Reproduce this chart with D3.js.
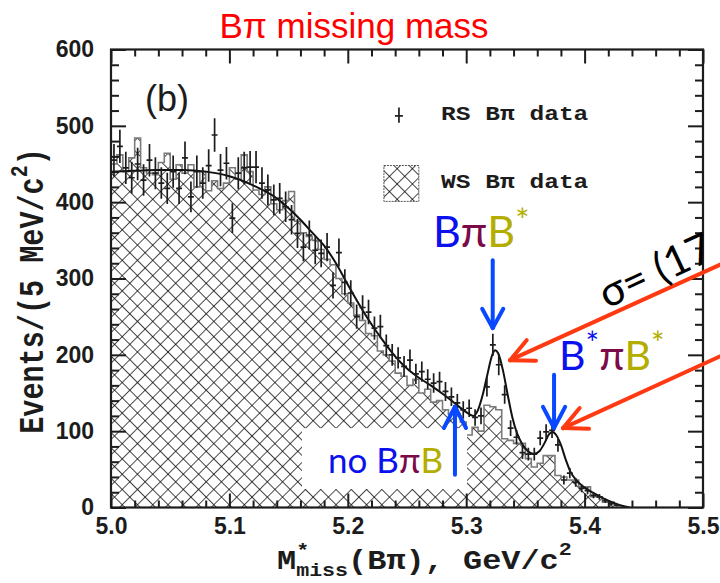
<!DOCTYPE html>
<html><head><meta charset="utf-8">
<script src="https://cdn.jsdelivr.net/npm/d3@7"></script>
<style>body{margin:0;background:#fff} svg{display:block}</style>
</head><body><svg id="c" width="720" height="583"></svg>
<script>
// ---------------- data ----------------
const binStart = 5.0, binWidth = 0.005;
const rsCounts = [455,473,445,432,450,429,455,438,425,418,
                  440,418,458,407,440,425,448,488,442,451,
                  379,438,445,446,446,425,416,403,405,394,
                  377,359,341,357,337,333,341,291,334,295,
                  281,250,262,256,235,237,212,200,196,185,
                  193,175,178,168,163,165,152,145,137,128,
                  130,118,120,158,213,187,148,104,92,72,
                  70,70,91,99,101,82,36,45,33,25,
                  22,16,14,9,5,3];
const wsCounts = [450,462,440,458,484,445,438,436,452,464,
                  430,449,438,449,420,440,415,428,418,425,
                  445,430,462,440,416,410,420,398,390,402,
                  414,375,360,355,350,338,325,318,300,280,
                  268,252,245,228,225,205,200,192,176,172,
                  160,168,150,155,138,140,128,122,120,112,
                  95,105,100,134,132,128,90,88,84,84,
                  64,53,58,68,68,42,40,36,36,27,
                  27,14,14,7,7,3];
const fitMass   = [5.00,5.02,5.04,5.06,5.08,5.10,5.12,5.14,5.15,5.16,5.17,5.18,5.19,5.20,5.21,5.22,5.23,5.24,5.25,5.26,5.27,5.28,5.29,5.30,5.306,5.310,5.314,5.318,5.322,5.3245,5.327,5.331,5.335,5.339,5.343,5.347,5.352,5.357,5.362,5.366,5.370,5.373,5.376,5.380,5.384,5.388,5.393,5.400,5.410,5.420,5.430,5.438];
const fitValues = [440,441,442,442,440,434,422,405,392,377,360,343,320,292,265,240,218,198,182,170,160,149,137,125,120,128,148,175,200,206,202,180,148,118,97,84,74,70,74,84,96,99,95,82,63,47,36,26,17,9,3,0];
const xTickValues = [5.0,5.1,5.2,5.3,5.4,5.5];
const xTickLabels = ["5.0","5.1","5.2","5.3","5.4","5.5"];
const yTickValues = [0,100,200,300,400,500,600];
const yTickLabels = ["0","100","200","300","400","500","600"];
const legendLabels = ["RS B\u03c0 data","WS B\u03c0 data"];

// ---------------- layout ----------------
const svg = d3.select("#c");
const x = d3.scaleLinear().domain([5.0,5.5]).range([111,703]);
const y = d3.scaleLinear().domain([0,600]).range([507.5,49.5]);
const ink = "#1c1c1c";

const defs = svg.append("defs");
const pat = defs.append("pattern").attr("id","hatch").attr("patternUnits","userSpaceOnUse")
  .attr("width",10.8).attr("height",10.8).attr("patternTransform","rotate(45)");
pat.append("path").attr("d","M0,0 H10.8 M0,0 V10.8").attr("stroke","#000").attr("stroke-width",1.4);
defs.append("clipPath").attr("id","plotclip").append("rect")
  .attr("x",x(5.0)).attr("y",y(600)).attr("width",x(5.5)-x(5.0)).attr("height",y(0)-y(600));

// title
svg.append("text").attr("x",354).attr("y",38).attr("text-anchor","middle")
  .attr("font-family","Liberation Sans, Arial, sans-serif").attr("font-size",35)
  .attr("fill","#ff0000").text("B\u03c0 missing mass");

const plot = svg.append("g").attr("clip-path","url(#plotclip)");

// WS histogram (hatched)
const wsPts = wsCounts.map((v,i)=>[binStart+i*binWidth, v]);
wsPts.push([binStart+wsCounts.length*binWidth, wsCounts[wsCounts.length-1]]);
plot.append("path").datum(wsPts)
  .attr("d", d3.area().x(d=>x(d[0])).y0(y(0)).y1(d=>y(d[1])).curve(d3.curveStepAfter))
  .attr("fill","url(#hatch)");
plot.append("path").datum(wsPts)
  .attr("d", d3.line().x(d=>x(d[0])).y(d=>y(d[1])).curve(d3.curveStepAfter))
  .attr("fill","none").attr("stroke","#7a7a7a").attr("stroke-width",1.6);

// white box for "no BπB"
plot.append("rect").attr("x",x(5.1613)).attr("y",y(104))
  .attr("width",x(5.3007)-x(5.1613)).attr("height",y(24)-y(104)).attr("fill","#fff");

// fit curve
plot.append("path").datum(fitMass.map((m,i)=>[m,fitValues[i]]))
  .attr("d", d3.line().x(d=>x(d[0])).y(d=>y(d[1])).curve(d3.curveMonotoneX))
  .attr("fill","none").attr("stroke","#111").attr("stroke-width",2);

// RS data points with error bars
const rs = plot.append("g").attr("stroke",ink).attr("stroke-width",1.7);
rsCounts.forEach((v,i)=>{
  const lo = binStart+i*binWidth, hi = lo+binWidth, c = lo+binWidth/2, e = Math.sqrt(v);
  rs.append("line").attr("x1",x(c)).attr("x2",x(c)).attr("y1",y(v-e)).attr("y2",y(v+e));
  rs.append("line").attr("x1",x(lo)).attr("x2",x(hi)).attr("y1",y(v)).attr("y2",y(v));
});

// ---------------- axes ----------------
const xMinor = d3.range(0,26).map(k=>5.0+k*0.02).filter(v=>Math.abs(v*10-Math.round(v*10))>1e-6);
const yMinor = d3.range(0,31).map(k=>k*20).filter(v=>v%100!==0);
const tickFont = g=>g.attr("font-family","Liberation Sans, Arial, sans-serif").attr("font-size",23).attr("font-weight","bold");
function styleAxis(g){ g.select(".domain").remove(); g.selectAll("line").attr("stroke",ink).attr("stroke-width",2); g.selectAll("text").attr("fill",ink); }

svg.append("g").attr("transform",`translate(0,${y(0)})`)
  .call(d3.axisBottom(x).tickValues(xTickValues).tickFormat((d,i)=>xTickLabels[i]).tickSize(-14).tickSizeOuter(0).tickPadding(10))
  .call(tickFont).call(styleAxis);
svg.append("g").attr("transform",`translate(0,${y(0)})`)
  .call(d3.axisBottom(x).tickValues(xMinor).tickFormat("").tickSize(-7).tickSizeOuter(0)).call(styleAxis);
svg.append("g").attr("transform",`translate(0,${y(600)})`)
  .call(d3.axisTop(x).tickValues(xTickValues).tickFormat("").tickSize(-14).tickSizeOuter(0)).call(styleAxis);
svg.append("g").attr("transform",`translate(0,${y(600)})`)
  .call(d3.axisTop(x).tickValues(xMinor).tickFormat("").tickSize(-7).tickSizeOuter(0)).call(styleAxis);
svg.append("g").attr("transform",`translate(${x(5.0)},0)`)
  .call(d3.axisLeft(y).tickValues(yTickValues).tickFormat((d,i)=>yTickLabels[i]).tickSize(-15).tickSizeOuter(0).tickPadding(17))
  .call(tickFont).call(styleAxis);
svg.append("g").attr("transform",`translate(${x(5.0)},0)`)
  .call(d3.axisLeft(y).tickValues(yMinor).tickFormat("").tickSize(-8).tickSizeOuter(0)).call(styleAxis);
svg.append("g").attr("transform",`translate(${x(5.5)},0)`)
  .call(d3.axisRight(y).tickValues(yTickValues).tickFormat("").tickSize(-15).tickSizeOuter(0)).call(styleAxis);
svg.append("g").attr("transform",`translate(${x(5.5)},0)`)
  .call(d3.axisRight(y).tickValues(yMinor).tickFormat("").tickSize(-8).tickSizeOuter(0)).call(styleAxis);

svg.append("rect").attr("x",x(5.0)).attr("y",y(600)).attr("width",x(5.5)-x(5.0)).attr("height",y(0)-y(600))
  .attr("fill","none").attr("stroke",ink).attr("stroke-width",2.2);

// axis titles (Courier-like, horizontally stretched as in the original)
const mono = "Liberation Mono, Courier New, monospace";
const xt = svg.append("text").attr("transform","translate(277,569) scale(1.14,1)")
  .attr("font-family",mono).attr("font-weight","bold").attr("font-size",28).attr("fill",ink);
xt.append("tspan").text("M");
xt.append("tspan").attr("font-size",19).attr("dy",-13).text("*");
xt.append("tspan").attr("font-size",19).attr("dx",-11.4).attr("dy",20).text("miss");
xt.append("tspan").attr("dy",-7).text("(B\u03c0), GeV/c");
xt.append("tspan").attr("font-size",19).attr("dy",-14).text("2");

const yt = svg.append("text").attr("transform","translate(43,291) scale(1.2,1) rotate(-90)")
  .attr("text-anchor","middle").attr("font-family",mono).attr("font-weight","bold").attr("font-size",28.5).attr("fill",ink);
yt.append("tspan").text("Events/(5 MeV/c");
yt.append("tspan").attr("font-size",20).attr("dy",-13).text("2");
yt.append("tspan").attr("dy",13).text(")");

// (b)
svg.append("text").attr("x",x(5.0287)).attr("y",111).attr("font-family","Liberation Sans, Arial, sans-serif")
  .attr("font-size",36).attr("fill",ink).text("(b)");

// legend
const lg = svg.append("g");
lg.append("line").attr("x1",x(5.2432)).attr("x2",x(5.2432)).attr("y1",y(524)).attr("y2",y(504)).attr("stroke",ink).attr("stroke-width",1.7);
lg.append("line").attr("x1",x(5.2432)-4).attr("x2",x(5.2432)+4).attr("y1",y(513)).attr("y2",y(513)).attr("stroke",ink).attr("stroke-width",1.7);
lg.append("rect").attr("x",x(5.2305)).attr("y",y(448)).attr("width",x(5.26)-x(5.2305)).attr("height",y(401)-y(448))
  .attr("fill","url(#hatch)").attr("stroke","#555").attr("stroke-width",1).attr("stroke-dasharray","2,1");
legendLabels.forEach((t,i)=>{
  lg.append("text").attr("transform",`translate(${x(5.2787)},${i===0?y(508):y(418)}) scale(1.17,1)`)
    .attr("font-family",mono).attr("font-weight","bold").attr("font-size",21).attr("fill",ink).text(t);
});

// ---------------- annotations ----------------
const cBlue="#0a10ee", cPi="#7a0a48", cOlive="#b3ad00", cArrow="#0848ff", cRed="#ff3a12";
const annFont = "Comic Sans MS, Lato, Noto Sans, sans-serif";
function arrow(x1,y1,x2,y2,color,w,len,ang){
  const g = svg.append("g").attr("stroke",color).attr("stroke-width",w).attr("stroke-linecap","round").attr("fill","none");
  g.append("line").attr("x1",x1).attr("y1",y1).attr("x2",x2).attr("y2",y2);
  const a = Math.atan2(y1-y2,x1-x2);
  [ang,-ang].forEach(s=>{
    g.append("line").attr("x1",x2).attr("y1",y2).attr("x2",x2+len*Math.cos(a+s)).attr("y2",y2+len*Math.sin(a+s));
  });
}
arrow(x(5.3224),y(324),x(5.3224),y(235),cArrow,4,22,0.5);
arrow(x(5.3742),y(174),x(5.3742),y(104),cArrow,4,24,0.48);
arrow(x(5.2905),y(43),x(5.2905),y(132),cArrow,4,24,0.48);
arrow(x(5.52),y(322),x(5.337),y(193),cRed,4,26,0.45);
arrow(x(5.52),y(202),x(5.3818),y(104),cRed,4,26,0.45);

// parts: [text, colour, superscript?]
function colored(xp,yp,size,parts){
  const t = svg.append("text").attr("x",xp).attr("y",yp).attr("font-family",annFont).attr("font-size",size);
  let raised = false;
  const rise = size*0.36;
  parts.forEach(p=>{
    const s = t.append("tspan").attr("fill",p[1]).text(p[0]);
    if (p[2] && !raised){ s.attr("dy",-rise).attr("font-size",size*0.78); raised = true; }
    else if (p[2]) { s.attr("font-size",size*0.78); }
    else if (raised){ s.attr("dy",rise); raised = false; }
  });
  return t;
}
colored(x(5.272),y(341),43,[["B",cBlue],["\u03c0",cPi],["B",cOlive],["*",cOlive,true]]);
colored(x(5.3784),y(180),41,[["B",cBlue],["*",cBlue,true],["\u03c0",cPi],["B",cOlive],["*",cOlive,true]]);
colored(x(5.1833),y(45),35,[["no B",cBlue],["\u03c0",cPi],["B",cOlive]]);
svg.append("text").attr("transform",`translate(${x(5.419)},${y(260)}) rotate(-25)`)
  .attr("font-family",annFont).attr("font-size",42).attr("fill","#000").text("\u03c3= (17");
</script></body></html>
